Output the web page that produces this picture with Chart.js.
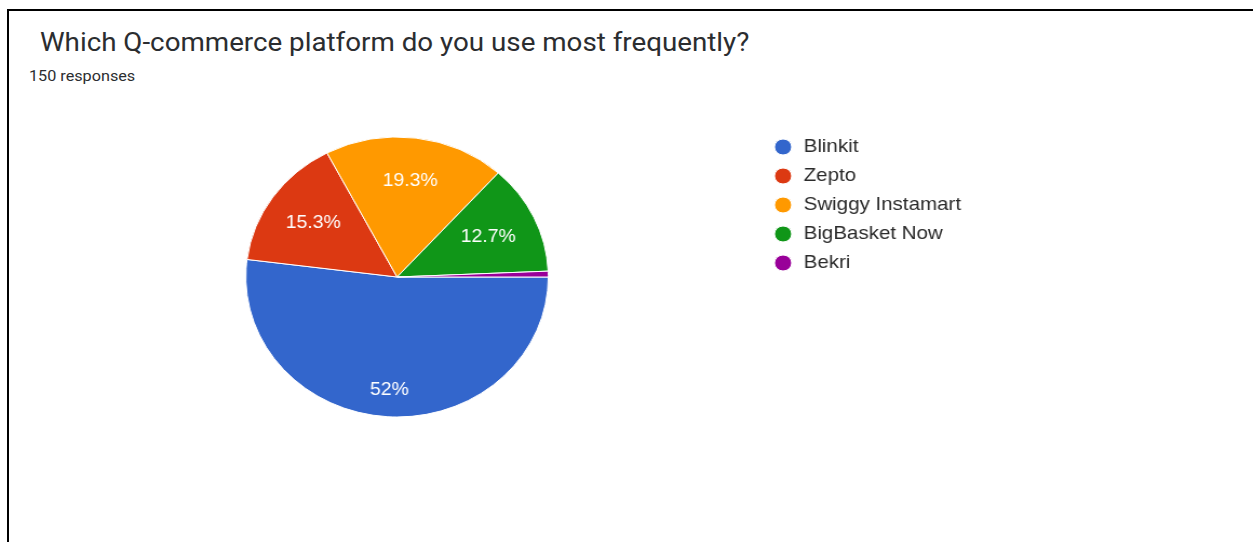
<html>
<head>
<script src="https://cdn.jsdelivr.net/npm/chart.js@4.4.1/dist/chart.umd.min.js"></script>
<style>
body { margin:0; background:#fff; width:1253px; height:542px; overflow:hidden; position:relative; }
#frame { position:absolute; left:7px; top:9px; right:-10px; bottom:-10px; border-top:2px solid #000; border-left:2px solid #000; }
#title { position:absolute; left:40px; top:30px; font:25px Roboto; line-height:25px; color:#2b2d30; white-space:nowrap; transform:scaleX(1.11); transform-origin:left top; }
#sub { position:absolute; left:29px; top:69px; font:15px Roboto; line-height:15px; color:#2b2d30; white-space:nowrap; transform:scaleX(1.08); transform-origin:left top; }
#myChart { position:absolute; left:0; top:0; width:1253px; height:542px; }
</style>
</head>
<body>
<div id="frame"></div>
<div id="title">Which Q-commerce platform do you use most frequently?</div>
<div id="sub">150 responses</div>
<canvas id="myChart" width="1160" height="542" style="width:1253px;height:542px"></canvas>
<script>
var labels = ['Blinkit', 'Zepto', 'Swiggy Instamart', 'BigBasket Now', 'Bekri'];
var responses = [78, 23, 29, 19, 1];
var colors = ['#3366cc', '#dc3912', '#ff9900', '#109618', '#990099'];

// white percentage text inside each slice, like google forms
var sliceText = {
  id: 'sliceText',
  afterDatasetsDraw: function(chart) {
    var ctx = chart.ctx;
    var meta = chart.getDatasetMeta(0);
    var total = responses.reduce(function(a, b) { return a + b; }, 0);
    ctx.save();
    ctx.font = '18px "Liberation Sans", Arial';
    ctx.fillStyle = '#fff';
    ctx.textAlign = 'center';
    ctx.textBaseline = 'middle';
    meta.data.forEach(function(arc, i) {
      var pct = responses[i] / total * 100;
      if (pct < 5) return;
      var txt = (Math.round(pct * 10) / 10) + '%';
      var deg = (arc.endAngle - arc.startAngle) * 180 / Math.PI;
      var mid = (arc.startAngle + arc.endAngle) / 2;
      var d = arc.outerRadius * (0.62 + 0.001 * deg);
      ctx.fillText(txt, arc.x + Math.cos(mid) * d, arc.y + Math.sin(mid) * d);
    });
    ctx.restore();
  }
};

var ctx = document.getElementById('myChart').getContext('2d');
var myChart = new Chart(ctx, {
  type: 'pie',
  data: {
    labels: labels,
    datasets: [{
      data: responses,
      backgroundColor: colors,
      borderColor: '#fff',
      borderWidth: 1,
      radius: 140
    }]
  },
  options: {
    responsive: false,
    animation: false,
    rotation: 90,
    layout: { padding: { left: 29.7, right: 260.3, top: 127.5, bottom: 115.5 } },
    plugins: {
      tooltip: { enabled: false },
      legend: {
        position: 'right',
        align: 'start',
        labels: {
          usePointStyle: true,
          pointStyle: 'circle',
          boxHeight: 11.3,
          padding: 10,
          color: '#2b2b2b',
          font: { family: '"Liberation Sans", Arial', size: 19 }
        }
      }
    }
  },
  plugins: [sliceText]
});
</script>
</body>
</html>
